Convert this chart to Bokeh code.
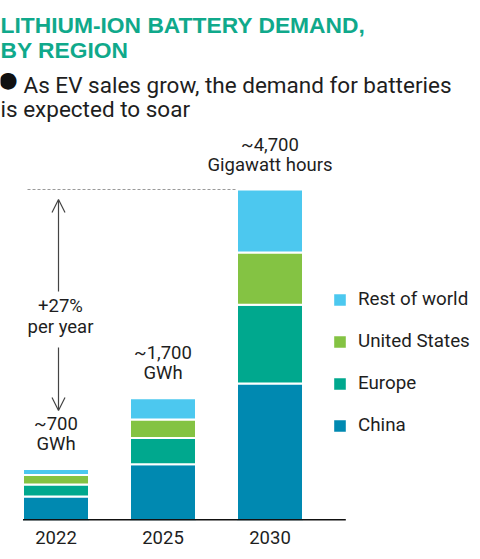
from bokeh.plotting import figure
from bokeh.models import (Range1d, FixedTicker, Label, Legend, LegendItem,
                          Arrow, OpenHead, ColumnDataSource)
from bokeh.embed import file_html
from bokeh.resources import INLINE

# ---------------- data ----------------
years = ["2022", "2025", "2030"]
regions = ["China", "Europe", "United States", "Rest of world"]
china = [340, 800, 1945]
europe = [170, 370, 1120]
united_states = [135, 265, 740]
rest_of_world = [85, 300, 895]
totals_text = ["~700", "~1,700", "~4,700"]
units_text = ["GWh", "GWh", "Gigawatt hours"]
growth_text = ["+27%", "per year"]

colors = ["#0089b1", "#00a88e", "#84c343", "#4cc8ef"]

# ---------------- layout ----------------
W, H = 472, 551
FRAME_H = 520
PX_X = 107.0                 # px per category step
X_START = -55.5 / PX_X
X_END = X_START + W / PX_X
Y_END = 4700.0 * FRAME_H / 331.0
BAR_W = 0.617
FONT = "Roboto"
TXT = "#1e1e1e"
PX_Y = Y_END / FRAME_H       # data units per pixel
TDY = 7                      # text baseline correction (px)


def yd(py):
    """pixel (from top) -> data y"""
    return (FRAME_H - py + TDY) * PX_Y


def xd(px):
    return X_START + px / PX_X


xs = list(range(len(years)))
src = ColumnDataSource(dict(x=xs, China=china, Europe=europe,
                            US=united_states, RoW=rest_of_world))

p = figure(width=W, height=H, output_backend="svg", toolbar_location=None,
           x_range=Range1d(X_START, X_END), y_range=Range1d(0, Y_END),
           y_axis_location=None, min_border_left=0, min_border_right=0,
           min_border_top=0, min_border_bottom=H - FRAME_H)
p.outline_line_color = None
p.xgrid.visible = False
p.ygrid.visible = False
p.background_fill_color = "white"
p.border_fill_color = "white"

rends = p.vbar_stack(["China", "Europe", "US", "RoW"], x="x", width=BAR_W,
                     source=src, color=colors, line_color="white",
                     line_width=2)

# x axis labels
ax = p.xaxis[0]
ax.ticker = FixedTicker(ticks=xs)
ax.major_label_overrides = {i: y for i, y in enumerate(years)}
ax.axis_line_color = None
ax.major_tick_line_color = None
ax.minor_tick_line_color = None
ax.major_tick_out = 0
ax.major_label_standoff = 10
ax.major_label_text_font = FONT
ax.major_label_text_font_size = "18.5px"
ax.major_label_text_color = TXT

# baseline
p.segment(x0=[xs[0] - BAR_W / 2], y0=[0], x1=[xs[-1] + BAR_W / 2 + 0.4],
          y1=[0], line_color="#111111", line_width=3)

totals = [c + e + u + r for c, e, u, r in
          zip(china, europe, united_states, rest_of_world)]

# dashed reference line at the largest total
p.segment(x0=[xd(27)], y0=[max(totals)], x1=[xs[-1] - BAR_W / 2],
          y1=[max(totals)], line_color="#9a9a9a", line_width=1,
          line_dash="3 2")

# total annotations
for x, t, u, tot in zip(xs, totals_text, units_text, totals):
    p.add_layout(Label(x=x, y=tot + (38 + TDY) * PX_Y, text=t,
                       text_align="center", text_baseline="alphabetic",
                       text_font=FONT, text_font_size="18.5px",
                       text_color=TXT))
    p.add_layout(Label(x=x, y=tot + (18 + TDY) * PX_Y, text=u,
                       text_align="center", text_baseline="alphabetic",
                       text_font=FONT, text_font_size="18.5px",
                       text_color=TXT))

# growth arrows
ax_x = xd(58)
for y0, y1 in [(291, 199), (347, 410)]:
    p.add_layout(Arrow(end=OpenHead(size=13, line_color="#444444",
                                    line_width=1.2),
                       x_start=ax_x, y_start=yd(y0) - TDY * PX_Y, x_end=ax_x,
                       y_end=yd(y1) - TDY * PX_Y,
                       line_color="#444444", line_width=1.2))
for py, t in [(312, growth_text[0]), (333, growth_text[1])]:
    p.add_layout(Label(x=xd(60), y=yd(py), text=t,
                       text_align="center", text_baseline="alphabetic",
                       text_font=FONT, text_font_size="18.5px",
                       text_color=TXT))

# title and subtitle
for py, t in [(31, "LITHIUM-ION BATTERY DEMAND,"), (56.5, "BY REGION")]:
    p.add_layout(Label(x=xd(0), y=yd(py), text=t, text_align="left",
                       text_baseline="alphabetic", text_font="Liberation Sans",
                       text_font_style="bold", text_font_size="22.8px",
                       text_color="#10a98b"))
p.add_layout(Label(x=xd(-2), y=yd(86), text="\u25cf", text_align="left",
                   text_baseline="alphabetic", text_font="DejaVu Sans",
                   text_font_size="22px", text_color="#111111"))
for px, py, t in [(23, 91, "As EV sales grow, the demand for batteries"),
                  (0, 115, "is expected to soar")]:
    p.add_layout(Label(x=xd(px), y=yd(py), text=t, text_align="left",
                       text_baseline="alphabetic", text_font=FONT,
                       text_font_size="22.5px", text_color=TXT))

# legend
items = [LegendItem(label=name, renderers=[r])
         for name, r in zip(regions, rends)][::-1]
legend = Legend(items=items, location=(331, 84), orientation="vertical",
                glyph_width=17, glyph_height=17, label_height=17,
                label_standoff=10, spacing=20, padding=0, margin=0,
                border_line_color=None, background_fill_alpha=0,
                label_text_font=FONT, label_text_font_size="18.8px",
                label_text_color=TXT)
p.add_layout(legend)

open("out.html", "w").write(file_html(p, INLINE))
